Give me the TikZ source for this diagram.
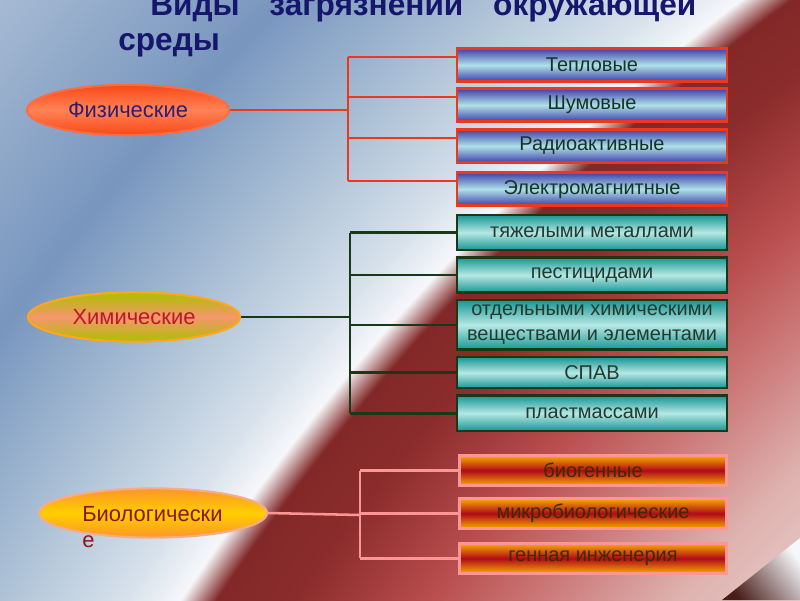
\documentclass[tikz,border=0pt]{standalone}
\usepackage{fontspec}
\setmainfont{Liberation Sans}
\usetikzlibrary{positioning, shapes.geometric}

\definecolor{bgsky}{RGB}{192,206,224}
\definecolor{bghaze}{RGB}{165,185,210}
\definecolor{bgsteel}{RGB}{120,150,190}
\definecolor{bgmist}{RGB}{175,195,215}
\definecolor{bgpale}{RGB}{215,225,235}
\definecolor{bgwhite}{RGB}{246,247,250}
\definecolor{bgwine}{RGB}{130,40,40}
\definecolor{bgdeep}{RGB}{140,44,44}
\definecolor{bgred}{RGB}{185,78,78}
\definecolor{bgrose}{RGB}{205,125,125}
\definecolor{bgblush}{RGB}{222,178,175}
\definecolor{bgshell}{RGB}{232,208,204}
\definecolor{bgcurl}{RGB}{72,30,26}
\definecolor{titleink}{RGB}{22,22,108}
\definecolor{physred}{RGB}{236,56,28}
\definecolor{physdark}{RGB}{62,64,170}
\definecolor{physlight}{RGB}{175,225,232}
\definecolor{physink}{RGB}{22,52,34}
\definecolor{chemgreen}{RGB}{22,58,24}
\definecolor{chemdark}{RGB}{24,150,148}
\definecolor{chemlight}{RGB}{182,232,228}
\definecolor{chemink}{RGB}{36,58,46}
\definecolor{biopink}{RGB}{252,150,150}
\definecolor{bioamber}{RGB}{248,172,0}
\definecolor{biocrimson}{RGB}{176,10,24}
\definecolor{bioink}{RGB}{60,42,0}
\definecolor{fizfill}{RGB}{250,72,22}
\definecolor{fizglow}{RGB}{255,130,86}
\definecolor{fizrim}{RGB}{255,108,66}
\definecolor{fizink}{RGB}{48,30,108}
\definecolor{chimolive}{RGB}{172,192,0}
\definecolor{chimsalmon}{RGB}{246,150,108}
\definecolor{chimrim}{RGB}{255,166,30}
\definecolor{chimink}{RGB}{190,22,42}
\definecolor{bioorange}{RGB}{252,150,40}
\definecolor{bioyellow}{RGB}{255,206,0}
\definecolor{biorim}{RGB}{246,172,140}
\definecolor{bioword}{RGB}{140,20,30}

\pgfdeclareradialshading{slidebg}{\pgfpoint{0bp}{0bp}}{color(0bp)=(bgshell); color(15.8bp)=(bgshell);
  color(16.7bp)=(bgblush); color(17.5bp)=(bgrose); color(18.3bp)=(bgred); color(19.2bp)=(bgdeep);
  color(19.75bp)=(bgwine); color(20bp)=(bgwhite); color(20.4bp)=(bgpale); color(21.25bp)=(bgmist);
  color(22.5bp)=(bgsteel); color(24.2bp)=(bghaze); color(25bp)=(bgsky); color(50bp)=(bgsky)}

\begin{document}
\begin{tikzpicture}[
    x=0.025cm, y=-0.025cm,
    node distance=0.125cm,
    boxtext/.style={font=\fontsize{14.2pt}{17.8pt}\selectfont, align=center},
    physbox/.style={rectangle, boxtext, draw=physred, line width=1.8pt, top color=physdark, bottom color=physdark, middle color=physlight, text=physink, minimum width=6.74cm, minimum height=0.825cm},
    chembox/.style={rectangle, boxtext, draw=chemgreen, line width=1.8pt, top color=chemdark, bottom color=chemdark, middle color=chemlight, text=chemink, minimum width=6.74cm, minimum height=0.875cm},
    biobox/.style={rectangle, boxtext, draw=biopink, line width=2.1pt, top color=bioamber, bottom color=bioamber, middle color=biocrimson, text=bioink, minimum width=6.675cm, minimum height=0.75cm},
    oval/.style={ellipse, line width=1.5pt, font=\fontsize{15.6pt}{18.5pt}\selectfont},
    title/.style={font=\bfseries\fontsize{22.5pt}{24.9pt}\selectfont, text=titleink, text width=14.45cm, align=left, inner sep=0pt},
    physwire/.style={draw=physred, line width=1.8pt},
    chemwire/.style={draw=chemgreen, line width=1.8pt},
    biowire/.style={draw=biopink, line width=1.8pt}
]

% Background
\useasboundingbox (0,0) rectangle (800,600);
\begin{scope}
\clip (0,0) rectangle (800,600);
\shade[shading=slidebg] (2189,1914) circle (3000);
\shade[left color=bgwhite, right color=bgcurl, shading angle=-52] (722,600) -- (800,538) -- (800,600) -- cycle;
\end{scope}

% Heading
\node[title, anchor=north west] (heading) at (118,-8) {\hspace*{0.8cm}Виды\hfill загрязнений\hfill окружающей\\среды};

% Groups
\node[oval, draw=fizrim, top color=fizfill, bottom color=fizfill, middle color=fizglow, text=fizink, minimum width=5.05cm, minimum height=1.26cm] (fiz) at (128,110) {Физические};
\node[oval, draw=chimrim, top color=chimolive, bottom color=chimolive, middle color=chimsalmon, text=chimink, minimum width=5.3cm, minimum height=1.23cm] (chim) at (134,317) {Химические};
\node[oval, draw=biorim, top color=bioorange, bottom color=bioorange, middle color=bioyellow, minimum width=5.7cm, minimum height=1.23cm] (bio) at (153,513) {};
\node[font=\fontsize{15.6pt}{18.5pt}\selectfont, text=bioword, align=left, inner sep=0pt, anchor=north west] (biotext) at (82,506) {Биологически\\е};

% Physical
\node[physbox] (tep) at (592,65) {Тепловые};
\node[physbox, below=0.1125cm of tep] (shum) {Шумовые};
\node[physbox, below=0.1375cm of shum] (rad) {Радиоактивные};
\node[physbox, below=0.1875cm of rad] (elm) {Электромагнитные};

% Chemical
\node[chembox] (metal) at (592,232.5) {тяжелыми металлами};
\node[chembox, below=of metal] (pest) {пестицидами};
\node[chembox, below=of pest, inner ysep=3.5pt] (subst) {отдельными химическими\\веществами и элементами};
\node[chembox, below=of subst, minimum height=0.775cm] (spav) {СПАВ};
\node[chembox, below=of spav] (plast) {пластмассами};

% Biological
\node[biobox] (biogen) at (593,470.5) {биогенные};
\node[biobox, below=0.25cm of biogen] (micro) {микробиологические};
\node[biobox, below=0.3cm of micro] (gene) {генная инженерия};

% Physical wiring
\coordinate (fizbus) at (348,110);
\draw[physwire] (fiz.east) -- (fizbus);
\draw[physwire] ([yshift=0.2cm]fizbus |- tep.west) -- ([yshift=0.2cm]fizbus |- elm.west);
\draw[physwire] ([yshift=0.2cm]fizbus |- tep.west) -- ([yshift=0.2cm]tep.west);
\draw[physwire] ([yshift=0.2cm]fizbus |- shum.west) -- ([yshift=0.2cm]shum.west);
\draw[physwire] ([yshift=0.2cm]fizbus |- rad.west) -- ([yshift=0.2cm]rad.west);
\draw[physwire] ([yshift=0.2cm]fizbus |- elm.west) -- ([yshift=0.2cm]elm.west);

% Chemical wiring
\coordinate (chimbus) at (350,317);
\draw[chemwire] (chim.east) -- (chimbus);
\draw[chemwire] (chimbus |- metal.west) -- (chimbus |- plast.west);
\draw[chemwire] (chimbus |- metal.west) -- (metal.west);
\draw[chemwire] (chimbus |- pest.west) -- (pest.west);
\draw[chemwire] (chimbus |- subst.west) -- (subst.west);
\draw[chemwire] (chimbus |- spav.west) -- (spav.west);
\draw[chemwire] (chimbus |- plast.west) -- (plast.west);

% Biological wiring
\coordinate (biobus) at (360,515);
\draw[biowire] (bio.east) -- (biobus);
\draw[biowire] (biobus |- biogen.west) -- (biobus |- gene.west);
\draw[biowire] (biobus |- biogen.west) -- (biogen.west);
\draw[biowire] (biobus |- micro.west) -- (micro.west);
\draw[biowire] (biobus |- gene.west) -- (gene.west);

\end{tikzpicture}
\end{document}
